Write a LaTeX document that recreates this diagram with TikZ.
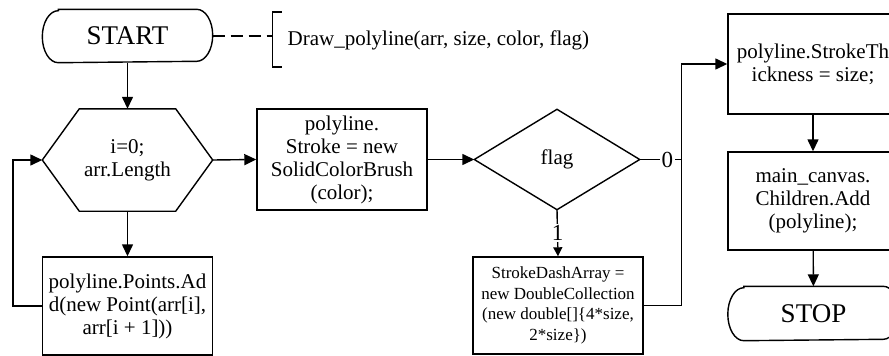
\documentclass[tikz,border=0pt]{standalone}
\usepackage{fontspec}
\setmainfont{Liberation Serif}
\usetikzlibrary{arrows.meta,calc}
\begin{document}
\begin{tikzpicture}[x=1pt,y=-1pt,
  line width=1.4pt,
  txt/.style={font=\fontsize{21}{23}\selectfont, align=center, inner sep=0pt},
  box/.style={txt, draw, minimum width=170pt, minimum height=#1},
  termbox/.style={minimum width=169pt, minimum height=52pt, font=\fontsize{27}{30}\selectfont, inner sep=0pt},
  arr/.style={-{Triangle[length=12pt,width=11pt]}},
  sarr/.style={-{Triangle[length=9pt,width=9pt]}},
  lbl/.style={fill=white, inner sep=1.5pt, font=\fontsize{23}{25}\selectfont},
]
\useasboundingbox (0,0) rectangle (889,356);
\clip (0,0) rectangle (889,356);

% left column
\node[termbox] (start) at (127.5,36) {START};
\draw ($(start.north west)+(16,0)$) -- ($(start.north east)+(-16,0)$)
  arc[start angle=90, end angle=-90, x radius=16pt, y radius=26pt]
  -- ($(start.south west)+(16,0)$)
  arc[start angle=270, end angle=90, x radius=16pt, y radius=26pt] -- cycle;
\node[txt, minimum width=169pt, minimum height=101pt] (h) at (127.5,160) {i=0;\\arr.Length};
\draw (h.west) -- ($(h.north west)+(37,0)$) -- ($(h.north east)+(-37,0)$) -- (h.east)
      -- ($(h.south east)+(-37,0)$) -- ($(h.south west)+(37,0)$) -- cycle;
\node[box=98pt] (pa) at (127.5,306) {polyline.Points.Ad\\d(new Point(arr[i],\\arr[i + 1]))};
\coordinate (lp) at (13,306);

% annotation
\coordinate (br) at (272.7,36);
\draw ($(br)+(9,-24)$) -- ($(br)+(0,-24)$) -- ($(br)+(0,31)$) -- ($(br)+(9,31)$);
\node[txt, anchor=west] (ann) at (287,40) {Draw\_polyline(arr, size, color, flag)};

% middle
\node[box=101pt] (sb) at (342,159.5) {polyline.\\Stroke = new\\SolidColorBrush\\(color);};
\node[txt, minimum width=164pt, minimum height=99pt] (d) at (557,159.5) {flag};
\draw (d.west) -- (d.north) -- (d.east) -- (d.south) -- cycle;
\node[box=97pt, font=\fontsize{17}{20.5}\selectfont] (sd) at (558,305.5)
  {StrokeDashArray =\\new DoubleCollection\\(new double[]\{4*size,\\2*size\})};
\coordinate (jx) at (681.7,159.5);

% right column
\node[box=100pt] (st) at (813,64) {polyline.StrokeTh\\ickness = size;};
\node[box=98pt] (mc) at (813,201) {main\_canvas.\\Children.Add\\(polyline);};
\node[termbox, minimum width=170pt, minimum height=53pt] (stop) at (813.5,313.5) {STOP};
\draw ($(stop.north west)+(16,0)$) -- ($(stop.north east)+(-16,0)$)
  arc[start angle=90, end angle=-90, x radius=16pt, y radius=26.5pt]
  -- ($(stop.south west)+(16,0)$)
  arc[start angle=270, end angle=90, x radius=16pt, y radius=26.5pt] -- cycle;

% connectors
\draw[dashed, dash pattern=on 12pt off 6pt] (start.east) -- (br);
\draw[arr] (start) -- (h);
\draw[arr] (h) -- (pa);
\draw[arr] (pa.west) -- (lp) |- (h.west);
\draw[arr] (h.east) -- (sb.west);
\draw[arr] (sb.east) -- (d.west);
\draw[sarr] (d.south) -- node[lbl, pos=0.5] (l1) {1} (sd.north);
\draw (d.east) -- node[lbl, pos=0.66] (l0) {0} (jx);
\draw[arr] (sd.east) -| (jx) |- (st.west);
\draw[arr] (st) -- (mc);
\draw[arr] (mc) -- (stop);
\end{tikzpicture}
\end{document}
